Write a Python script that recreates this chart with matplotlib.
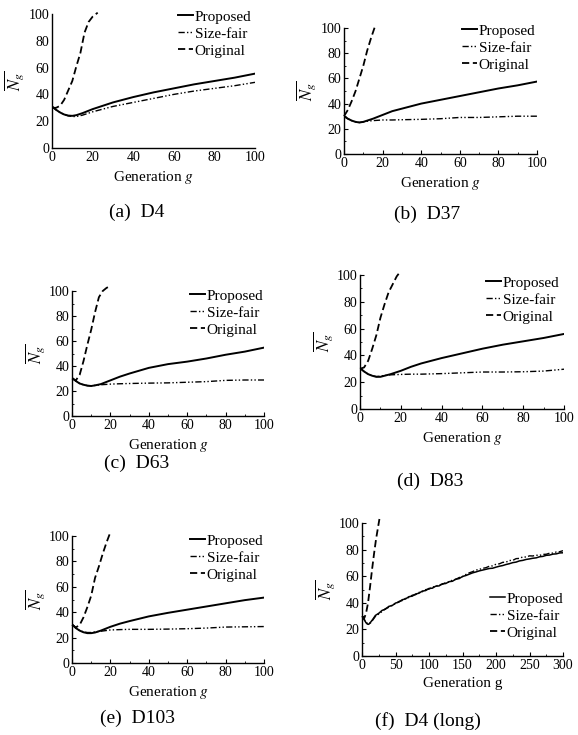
import matplotlib
matplotlib.use("Agg")
import matplotlib.pyplot as plt
from matplotlib.ticker import MultipleLocator

plt.rcParams['font.family'] = ['Liberation Serif', 'DejaVu Serif']
plt.rcParams['mathtext.fontset'] = 'stix'

# ---------------- data ----------------
g_short = [0, 2, 4, 6, 8, 10, 12, 15, 20, 25, 30, 40, 50, 60, 70, 80, 90, 100]

d4_prop = [31, 28.5, 26.5, 25, 24.2, 24, 24.5, 26, 29, 31.5, 34, 38, 41.5, 44.5, 47.5, 50, 52.5, 55.5]
d4_fair = [31, 28.5, 26.5, 25, 24, 23.5, 23.5, 24.5, 27, 29, 31, 34, 37, 40, 42.5, 44.5, 46.5, 49]
d4_orig_g = [0, 2, 4, 6, 8, 10, 12, 14, 16, 18, 20, 22.5]
d4_orig = [30, 30, 31.5, 36, 43, 50, 61, 71, 86, 94, 98, 101]

d37_prop = [30, 28, 26.5, 25.5, 25, 25.5, 26.5, 28, 31, 34, 36, 40, 43, 46, 49, 52, 54.5, 57.5]
d37_fair = [30, 28, 26.5, 25.5, 25, 25.5, 26, 26.5, 27, 27, 27.2, 27.5, 28, 29, 29, 29.5, 30, 30]
d37_orig_g = [0, 2, 4, 6, 8, 10, 12, 14, 16]
d37_orig = [30, 35, 42, 50, 60, 70, 82, 92, 101]

d63_prop = [30.5, 28, 26, 25, 24.3, 24, 24.5, 25.5, 28.5, 31.5, 34, 38.5, 41.5, 43.5, 46, 49, 51.5, 54.7]
d63_fair = [30.5, 28, 26, 25, 24.3, 24.2, 24.5, 25, 25.5, 25.8, 26, 26.3, 26.5, 27, 27.5, 28.5, 28.8, 28.8]
d63_orig_g = [0, 2, 4, 6, 8, 10, 12, 14, 16, 18, 20]
d63_orig = [30, 28.5, 33, 44, 57, 69, 83, 95, 100, 102.5, 104]

d83_prop = [30.5, 28, 26, 24.8, 24, 24, 24.8, 26, 28.5, 31.5, 34, 38, 41.5, 45, 48, 50.5, 53, 56]
d83_fair = [30.5, 28, 26, 24.8, 24.2, 24.5, 25, 25.5, 25.8, 26, 26, 26.4, 27, 27.6, 27.6, 27.8, 28.3, 29.7]
d83_orig_g = [0, 2, 4, 6, 8, 10, 12, 14, 16, 18, 20]
d83_orig = [30, 31, 36, 45, 55, 68, 78, 87, 93, 99, 103]

d103_prop = [30.5, 27.5, 25.5, 24.2, 23.5, 23.5, 24, 25.5, 28.5, 31, 33, 36.7, 39.5, 42, 44.5, 47, 49.5, 51.5]
d103_fair = [30.5, 27.5, 25.5, 24.5, 24, 24, 24.5, 25, 26, 26.3, 26.5, 26.5, 26.7, 27, 27.5, 28.3, 28.5, 28.7]
d103_orig_g = [0, 2, 4, 6, 8, 10, 12, 14, 16, 18, 20]
d103_orig = [30, 28, 30, 36, 44, 53, 67, 76, 86, 95, 103]

g_long = [0, 3, 6, 8, 10, 13, 16] + list(range(20, 301, 5))
long_prop = [30.5, 27.5, 25, 24, 23.8, 25.5, 27.5,
             30.5, 32.1, 34.3, 35.2, 37.3, 37.9, 39.8, 40.5, 42.3, 42.9,
             44.6, 45.0, 46.6, 47.2, 48.8, 49.2, 50.8, 51.0, 52.5, 52.7,
             54.3, 54.5, 55.9, 56.2, 57.8, 58.2, 59.8, 60.5, 61.5, 62.5,
             63.2, 64.0, 64.6, 65.2, 65.8, 66.0, 66.8, 67.5, 68.0, 68.8,
             69.4, 70.2, 70.6, 71.5, 71.9, 72.6, 73.0, 73.5, 73.8, 74.6,
             74.9, 75.7, 75.9, 76.6, 76.8, 77.5, 77.6]
long_fair = [30.5, 27.8, 25.5, 24.5, 24.2, 25.0, 27.0,
             29.8, 31.6, 33.5, 35.6, 36.6, 38.4, 39.2, 41.0, 41.7, 43.4,
             44.0, 45.7, 46.1, 47.8, 48.3, 49.9, 50.3, 51.8, 52.4, 53.5,
             53.9, 55.2, 55.6, 57.1, 57.6, 59.0, 59.6, 61.3, 62.5, 63.4,
             64.6, 65.1, 65.9, 66.4, 67.5, 67.8, 69.0, 69.3, 70.4, 70.6,
             71.8, 71.9, 73.2, 73.4, 74.5, 74.4, 75.3, 75.2, 75.8, 75.6,
             76.4, 76.5, 77.3, 77.4, 78.2, 78.4, 79.2]
long_orig_g = [0, 3, 6, 9, 12, 15, 18, 21, 24, 26]
long_orig = [30, 28, 32, 40, 52, 65, 77, 88, 97, 103]

labels = ["Proposed", "Size-fair", "Original"]
captions = ["(a)  D4", "(b)  D37", "(c)  D63", "(d)  D83", "(e)  D103", "(f)  D4 (long)"]
xlabels = ["Generation $\\mathit{g}$"] * 5 + ["Generation g"]

# ---------------- layout (pixels) ----------------
W, H = 578, 735
fig = plt.figure(figsize=(W / 100, H / 100), dpi=100)

# (x0, x1, y_top, y_bottom) of the axes in pixels
boxes = [(52, 255, 14, 148), (344, 537, 28, 154), (72, 264, 291, 416),
         (360, 564, 275, 409), (72, 264, 536, 663), (362, 563, 523, 656)]
leg_pos = [(178, 10), (462, 24), (190, 289), (486, 276), (190, 534), (490, 592)]
cap_pos = [(137, 212), (427, 214), (137, 463), (430, 481), (137, 718), (428, 721)]
ylab_off = [-38, -38, -37, -37, -37, -37]

panels = [
    (g_short, d4_prop, g_short, d4_fair, d4_orig_g, d4_orig, 100, 20),
    (g_short, d37_prop, g_short, d37_fair, d37_orig_g, d37_orig, 100, 20),
    (g_short, d63_prop, g_short, d63_fair, d63_orig_g, d63_orig, 100, 20),
    (g_short, d83_prop, g_short, d83_fair, d83_orig_g, d83_orig, 100, 20),
    (g_short, d103_prop, g_short, d103_fair, d103_orig_g, d103_orig, 100, 20),
    (g_long, long_prop, g_long, long_fair, long_orig_g, long_orig, 300, 50),
]

fair_style = (0, (4.5, 1.6, 1, 1.6, 1, 1.6))
orig_style = (0, (4, 2))

for i, (gp, yp, gf, yf, go, yo, xmax, xstep) in enumerate(panels):
    x0, x1, yt, yb = boxes[i]
    ax = fig.add_axes([x0 / W, 1 - yb / H, (x1 - x0) / W, (yb - yt) / H])
    lw = 1.1 if i == 5 else 1.4
    ax.plot(gp, yp, color='black', lw=lw, ls='-', label=labels[0])
    ax.plot(gf, yf, color='black', lw=1.0, ls=fair_style, label=labels[1])
    ax.plot(go, yo, color='black', lw=1.3, ls=orig_style, label=labels[2], clip_on=False)
    ax.set_xlim(0, xmax)
    ax.set_ylim(0, 100)
    ax.spines['top'].set_visible(False)
    ax.spines['right'].set_visible(False)
    ax.spines['left'].set_linewidth(1.0)
    ax.spines['bottom'].set_linewidth(1.0)
    ax.xaxis.set_major_locator(MultipleLocator(xstep))
    ax.yaxis.set_major_locator(MultipleLocator(20))
    ax.xaxis.set_minor_locator(MultipleLocator(xstep / 2))
    ax.yaxis.set_minor_locator(MultipleLocator(10))
    if i == 0:
        ax.tick_params(which='both', length=0, pad=2, labelsize=10)
    else:
        ax.tick_params(which='major', direction='in', length=3, width=0.8, pad=2, labelsize=10)
        ax.tick_params(which='minor', direction='in', length=1.5, width=0.6)
    ax.set_xlabel(xlabels[i], fontsize=11, labelpad=4)
    ax.set_ylabel("$\\overline{N_g}$", fontsize=12, va='center')
    ax.yaxis.set_label_coords(ylab_off[i] / (x1 - x0), 0.5)
    lx, ly = leg_pos[i]
    ax.legend(loc='upper left', bbox_to_anchor=(lx / W, 1 - ly / H),
              bbox_transform=fig.transFigure, frameon=False, fontsize=11,
              handlelength=0.95, handletextpad=0.15, labelspacing=0.22,
              borderpad=0, borderaxespad=0)
    cx, cy = cap_pos[i]
    fig.text(cx / W, 1 - cy / H, captions[i], ha='center', va='center', fontsize=14)

fig.savefig("out.png", dpi=100)
